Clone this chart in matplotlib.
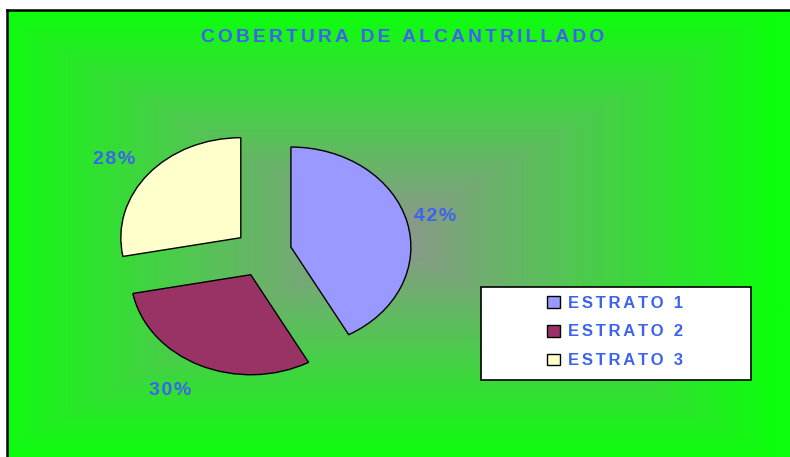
import numpy as np
import matplotlib
matplotlib.use('Agg')
import matplotlib.pyplot as plt
from matplotlib.patches import Rectangle

plt.rcParams['font.family'] = ['Liberation Sans', 'DejaVu Sans']

# datos
estratos = ['ESTRATO 1', 'ESTRATO 2', 'ESTRATO 3']
porcentajes = [42, 30, 28]
colores = ['#9999ff', '#993366', '#ffffcc']
titulo = 'COBERTURA DE ALCANTRILLADO'

azul = '#3d62f0'
verde = np.array([12, 255, 12]) / 255
gris = np.array([146, 146, 146]) / 255


def espaciar(texto, n=1):
    # Excel usa espaciado expandido entre letras
    return ('\u200a' * n).join(texto)


W, H = 790, 457
fig = plt.figure(figsize=(W / 100, H / 100), dpi=100)
fig.patch.set_facecolor('white')

# fondo con degradado rectangular
ax_bg = fig.add_axes([7 / W, 0, 1 - 7 / W, (H - 10) / H])
ny, nx = 300, 500
yy, xx = np.mgrid[0:ny, 0:nx]
cx, cy = nx * 0.48, ny * 0.50
t = np.maximum(np.abs(xx - cx) / (nx / 2), np.abs(yy - cy) / (ny / 2))
t = np.clip(t, 0, 1)
f = (1 - t) ** 1.0
img = verde[None, None, :] + (gris - verde)[None, None, :] * f[:, :, None]
ax_bg.imshow(img, aspect='auto', extent=[0, 1, 0, 1], interpolation='bilinear')
ax_bg.set_xlim(0, 1)
ax_bg.set_ylim(0, 1)
ax_bg.set_xticks([])
ax_bg.set_yticks([])
for lado in ['right', 'bottom']:
    ax_bg.spines[lado].set_visible(False)
for lado in ['left', 'top']:
    ax_bg.spines[lado].set_linewidth(1.8)
    ax_bg.spines[lado].set_color('black')

fig.text(403 / W, 1 - 37 / H, espaciar(titulo, 2), ha='center', va='center',
         fontsize=13.8, fontweight='bold', color=azul)

# pastel
ax = fig.add_axes([83 / W, 54 / H, 360 / W, 300 / H])
ax.patch.set_alpha(0)
explode = 0.24
wedges, textos, autotextos = ax.pie(
    porcentajes, colors=colores, startangle=90, counterclock=False,
    explode=[explode] * len(porcentajes),
    autopct=lambda p: espaciar('%.0f%%' % p), pctdistance=1.25,
    wedgeprops=dict(edgecolor='black', linewidth=1.0),
    textprops=dict(color=azul, fontsize=14, fontweight='bold'))

# Excel coloca las etiquetas algo giradas respecto a la bisectriz
dist_etiq = [1.24, 1.34, 1.32]
giro_etiq = [0, -5, 3]
for w, txt, d, g in zip(wedges, autotextos, dist_etiq, giro_etiq):
    mid = np.deg2rad((w.theta1 + w.theta2) / 2)
    ox, oy = w.center
    ang = mid + np.deg2rad(g)
    txt.set_position((ox + d * np.cos(ang), oy + d * np.sin(ang)))

ax.set_aspect('auto')
ax.set_xlim(-1.5, 1.5)
ax.set_ylim(-1.5, 1.5)
ax.axis('off')

# leyenda
caja = Rectangle((481 / W, 1 - 380 / H), 270 / W, 93 / H, transform=fig.transFigure,
                 facecolor='white', edgecolor='black', linewidth=1.2, zorder=5)
fig.patches.append(caja)
leg = fig.legend(wedges, [espaciar(e, 2) for e in estratos], loc='center',
                 bbox_to_anchor=((481 + 134) / W, 1 - 332 / H), frameon=False,
                 prop=dict(weight='bold', size=12), labelcolor=azul,
                 handlelength=0.8, handleheight=0.7, handletextpad=0.5,
                 labelspacing=0.82)
leg.set_zorder(6)

fig.savefig('out.png', dpi=100)
